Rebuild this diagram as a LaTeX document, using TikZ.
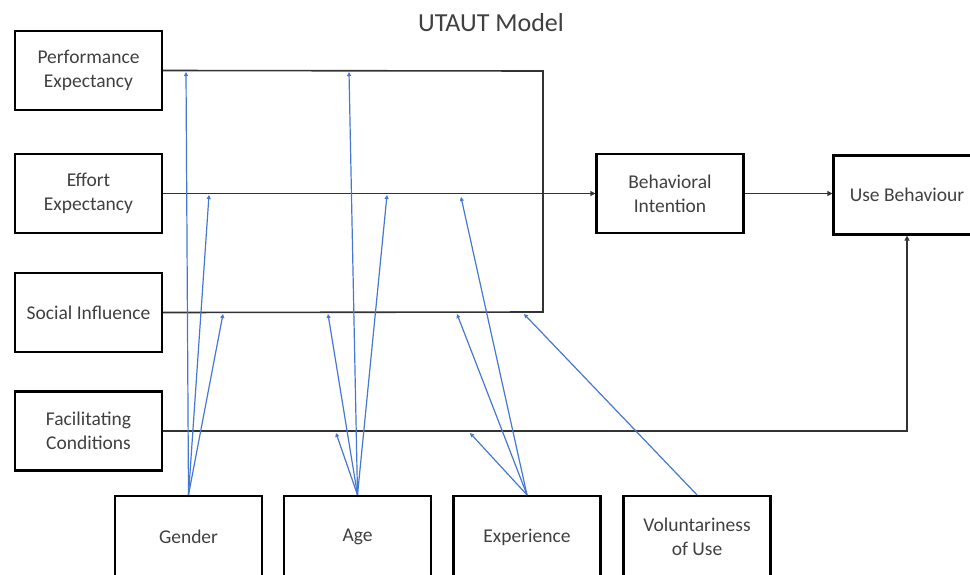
\documentclass[tikz,border=0pt]{standalone}
\usepackage{fontspec}
\setmainfont{Carlito}
\usetikzlibrary{arrows.meta}
\definecolor{modblue}{RGB}{70,120,210}
\tikzset{
  box/.style = {draw=black, line width=2.2pt, align=center, inner sep=0pt, minimum width=147pt, minimum height=79pt, text=black!75, font=\fontsize{19.5}{24}\selectfont},
  link/.style = {draw=black!80, line width=1.6pt},
  arr/.style = {link, -{Triangle[length=5pt,width=5pt]}},
  mod/.style = {draw=modblue, line width=1.2pt, -{Triangle[length=4pt,width=4pt]}},
}

\begin{document}
\begin{tikzpicture}[x=1pt,y=-1pt]
\useasboundingbox (0,0) rectangle (970,574);
\node[text=black!75, font=\fontsize{26}{30}\selectfont] (title) at (491,23) {UTAUT Model};
% constructs
\node[box] (PE) at (88.5,70.5) {Performance\\Expectancy};
\node[box] (EE) at (88.5,193.5) {Effort\\Expectancy};
\node[box] (SI) at (88.5,312.5) {Social Influence};
\node[box] (FC) at (88.5,431) {Facilitating\\Conditions};
\node[box] (BI) at (670,193.5) {Behavioral\\Intention};
\node[box] (UB) at (907,195) {Use Behaviour};
% moderators
\node[box, minimum height=82pt] (G) at (188.5,537) {Gender};
\node[box, minimum height=82pt] (A) at (357.5,537) {Age};
\node[box, minimum height=82pt] (X) at (527,537) {Experience};
\node[box, minimum height=82pt] (V) at (697,537) {Voluntariness\\of Use};

\coordinate (tr) at (543,71);
\coordinate (br) at (543,312);
\draw[link] (PE.east) -- (tr) -- (br) -- (SI.east);
\draw[arr] (EE.east) -- (BI.west);
\draw[arr] (BI.east) -- (BI.east -| UB.west);
\draw[arr] (FC.east) -- (FC.east -| UB.south) -- (UB.south);

% where the moderators hit the paths
\coordinate (g1) at (186,72);
\coordinate (g2) at (209,195);
\coordinate (g3) at (223,314);
\coordinate (a1) at (349,72);
\coordinate (a2) at (387,195);
\coordinate (a3) at (328,314);
\coordinate (a4) at (336,433);
\coordinate (x2) at (461,197);
\coordinate (x3) at (457,314);
\coordinate (x4) at (470,433);
\coordinate (v3) at (524,314);

\foreach \e in {g1,g2,g3} \draw[mod] (G.north) -- (\e);
\foreach \e in {a1,a2,a3,a4} \draw[mod] (A.north) -- (\e);
\foreach \e in {x2,x3,x4} \draw[mod] (X.north) -- (\e);
\draw[mod] (V.north) -- (v3);
\end{tikzpicture}
\end{document}
